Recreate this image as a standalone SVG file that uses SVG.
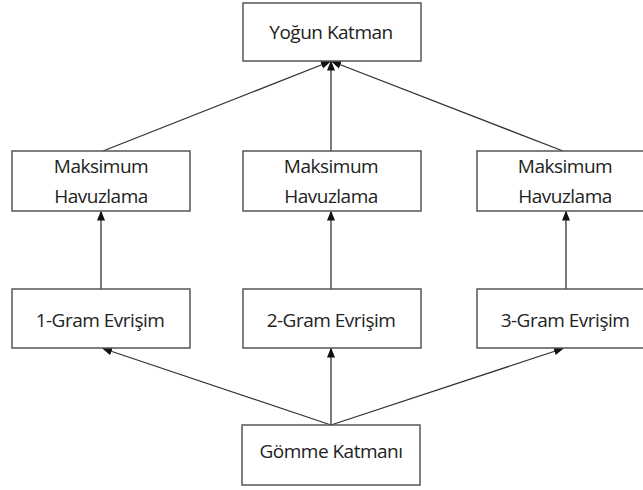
<svg xmlns="http://www.w3.org/2000/svg" width="643" height="490" viewBox="0 0 643 490">
<defs>
<style>
.box{fill:#fff;stroke:#555;stroke-width:1.5}
.t{font-family:"Open Sans","Liberation Sans",sans-serif;font-size:19px;letter-spacing:-0.5px;fill:#222;text-anchor:middle}
.c{stroke:#333;stroke-width:1.3;fill:none;marker-end:url(#ah)}
</style>
<marker id="ah" markerWidth="10" markerHeight="10" refX="9" refY="5" orient="auto" markerUnits="userSpaceOnUse">
<path d="M0,1 L10,5 L0,9 Z" fill="#111"/>
</marker>
</defs>
<rect width="643" height="490" fill="#fff"/>
<g id="connectors">
<line class="c" x1="331" y1="425" x2="103" y2="348.5"/>
<line class="c" x1="331" y1="425" x2="331" y2="348.5"/>
<line class="c" x1="331" y1="425" x2="563" y2="348.5"/>
<line class="c" x1="101" y1="289" x2="101" y2="211.5"/>
<line class="c" x1="331" y1="289" x2="331" y2="211.5"/>
<line class="c" x1="566" y1="289" x2="566" y2="211.5"/>
<line class="c" x1="103" y1="151" x2="330" y2="61.5"/>
<line class="c" x1="331" y1="151" x2="331" y2="61.5"/>
<line class="c" x1="563" y1="151" x2="332" y2="61.5"/>
</g>
<g id="yogun"><rect class="box" x="243" y="3" width="178" height="58"/><text class="t" x="331" y="39">Yoğun Katman</text></g>
<g id="max1"><rect class="box" x="12" y="151" width="178" height="60"/><text class="t" x="101" y="173">Maksimum</text><text class="t" x="101" y="203">Havuzlama</text></g>
<g id="max2"><rect class="box" x="243" y="151" width="178" height="60"/><text class="t" x="331" y="173">Maksimum</text><text class="t" x="331" y="203">Havuzlama</text></g>
<g id="max3"><rect class="box" x="477" y="151" width="178" height="60"/><text class="t" x="565" y="173">Maksimum</text><text class="t" x="565" y="203">Havuzlama</text></g>
<g id="gram1"><rect class="box" x="12" y="289" width="178" height="59"/><text class="t" x="100" y="327">1-Gram Evrişim</text></g>
<g id="gram2"><rect class="box" x="243" y="289" width="178" height="59"/><text class="t" x="331" y="327">2-Gram Evrişim</text></g>
<g id="gram3"><rect class="box" x="477" y="289" width="178" height="59"/><text class="t" x="565" y="327">3-Gram Evrişim</text></g>
<g id="gomme"><rect class="box" x="242" y="425" width="178" height="60"/><text class="t" x="331" y="458">Gömme Katmanı</text></g>
</svg>
